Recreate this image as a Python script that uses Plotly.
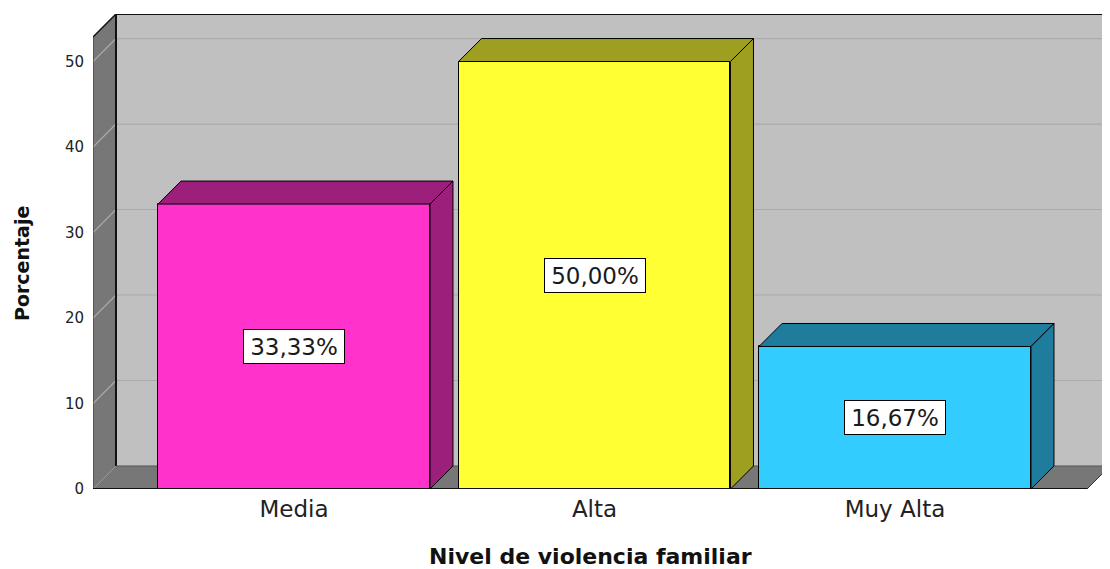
import plotly.graph_objects as go

# ---- data ----
categories = ["Media", "Alta", "Muy Alta"]
values = [33.33, 50.00, 16.67]
value_labels = ["33,33%", "50,00%", "16,67%"]
y_ticks = [0, 10, 20, 30, 40, 50]
front_colors = ["#ff33cc", "#ffff33", "#33ccff"]
side_colors = ["#9c1f7c", "#9e9e20", "#1f7c9c"]

# ---- geometry (axis units) ----
X_MIN, X_MAX = -0.669, 2.7155
DX, DY = 0.0765, 2.69          # 3D depth offset
WALL_TOP = 52.87               # front top of the box
Y_MAX = WALL_TOP + DY
BAR_W = 0.905
WALL_DARK = "#777777"
WALL_BACK = "#c0c0c0"
GRID = "#aaaaaa"
FONT = "DejaVu Sans"

xs = list(range(len(categories)))
fig = go.Figure()

fig.add_trace(go.Bar(
    x=xs, y=values, width=BAR_W,
    marker=dict(color=front_colors, line=dict(color="#000000", width=1)),
    hoverinfo="skip", showlegend=False,
))

shapes = []

def poly(pts, fill, line_color="rgba(0,0,0,0)", lw=0, layer="below"):
    d = "M " + " L ".join(f"{x},{y}" for x, y in pts) + " Z"
    shapes.append(dict(type="path", path=d, xref="x", yref="y",
                       fillcolor=fill, line=dict(color=line_color, width=lw),
                       layer=layer))

def seg(x0, y0, x1, y1, color, w, layer="below"):
    shapes.append(dict(type="line", x0=x0, y0=y0, x1=x1, y1=y1, xref="x", yref="y",
                       line=dict(color=color, width=w), layer=layer))

XF = X_MAX - DX  # right end of the floor front edge
# back wall
poly([(X_MIN + DX, DY), (X_MAX, DY), (X_MAX, Y_MAX), (X_MIN + DX, Y_MAX)], WALL_BACK)
# left wall
poly([(X_MIN, 0), (X_MIN + DX, DY), (X_MIN + DX, Y_MAX), (X_MIN, WALL_TOP)], WALL_DARK)
# floor
poly([(X_MIN, 0), (XF, 0), (X_MAX, DY), (X_MIN + DX, DY)], WALL_DARK)

# gridlines
for t in y_ticks[1:]:
    seg(X_MIN + DX, t + DY, X_MAX, t + DY, GRID, 1.2)
    seg(X_MIN, t, X_MIN + DX, t + DY, GRID, 1.2)

# edges of the box
seg(X_MIN + DX, DY, X_MIN + DX, Y_MAX, "#111111", 2)
seg(X_MIN + DX, Y_MAX, X_MAX, Y_MAX, "#111111", 2)
seg(X_MIN, WALL_TOP, X_MIN + DX, Y_MAX, "#111111", 1.5)
seg(X_MIN, 0, X_MIN, WALL_TOP, "#333333", 1)
seg(X_MIN + DX, DY, XF + DX, DY, "#555555", 1)
seg(X_MIN, 0, XF, 0, "#111111", 2, layer="above")
seg(XF, 0, X_MAX, DY, "#333333", 1)

# bar 3D faces
for i, v in enumerate(values):
    x0, x1 = i - BAR_W / 2, i + BAR_W / 2
    poly([(x0, v), (x0 + DX, v + DY), (x1 + DX, v + DY), (x1, v)],
         side_colors[i], "#000000", 1, layer="above")
    poly([(x1, 0), (x1 + DX, DY), (x1 + DX, v + DY), (x1, v)],
         side_colors[i], "#000000", 1, layer="above")

annotations = []
for i, v in enumerate(values):
    annotations.append(dict(
        x=i, y=v / 2, xref="x", yref="y", text=value_labels[i], showarrow=False,
        font=dict(family=FONT, size=23, color="#1a1a1a"),
        bgcolor="#ffffff", bordercolor="#000000", borderwidth=1, borderpad=2,
        width=96, height=29,
    ))

# page offset (browser body margin)
OFF = 8
W, H = 1110 - OFF, 569 - OFF
L, R, T, B = 93 - OFF, 0, 14 - OFF, 80
pw, ph = W - L - R, H - T - B

def px_to_paper(px, py):
    return (px - OFF - L) / pw, (H - (py - OFF) - B) / ph

ax, ay = px_to_paper(22, 264)
annotations.append(dict(
    x=ax, y=ay, xref="paper", yref="paper", text="<b>Porcentaje</b>",
    xanchor="center", yanchor="middle",
    showarrow=False, textangle=-90,
    font=dict(family=FONT, size=19, color="#111111"),
))
ax, ay = px_to_paper(590, 556)
annotations.append(dict(
    x=ax, y=ay, xref="paper", yref="paper", text="<b>Nivel de violencia familiar</b>",
    xanchor="center", yanchor="middle",
    showarrow=False, font=dict(family=FONT, size=22, color="#111111"),
))

fig.update_layout(
    width=W, height=H,
    margin=dict(l=L, r=R, t=T, b=B, autoexpand=False),
    paper_bgcolor="#ffffff", plot_bgcolor="rgba(0,0,0,0)",
    shapes=shapes, annotations=annotations,
    bargap=0,
    xaxis=dict(range=[X_MIN, X_MAX], tickvals=xs, ticktext=categories,
               showgrid=False, zeroline=False, showline=False, ticks="",
               tickfont=dict(family=FONT, size=23, color="#222222"),
               ticklabelstandoff=4, fixedrange=True),
    yaxis=dict(range=[0, Y_MAX], tickvals=y_ticks, showgrid=False, zeroline=False,
               showline=False, ticks="", tickfont=dict(family=FONT, size=15, color="#222222"),
               ticklabelstandoff=8, fixedrange=True),
)

fig.write_html("out.html")
